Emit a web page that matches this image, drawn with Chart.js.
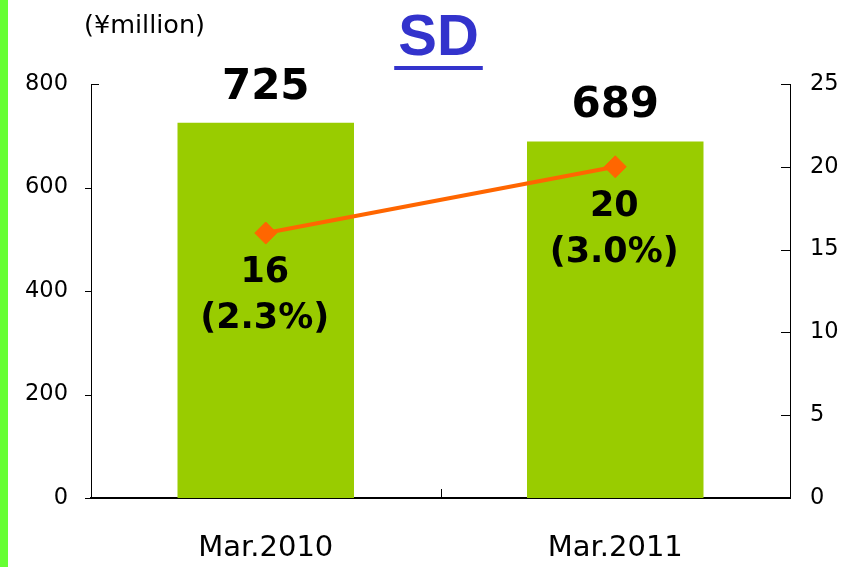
<!DOCTYPE html>
<html>
<head>
<meta charset="utf-8">
<title>SD</title>
<script src="https://cdn.jsdelivr.net/npm/chart.js@4.4.1/dist/chart.umd.min.js"></script>
<style>
    html, body { margin: 0; padding: 0; background: #fff; }
    #chart { display: block; }
</style>
</head>
<body>
<canvas id="chart" width="854" height="567"></canvas>
<script>
// ── Data ────────────────────────────────────────────────
const categories   = ['Mar.2010', 'Mar.2011'];
const salesValues  = [725, 689];          // ¥million, bars, left axis
const profitValues = [16, 20];            // line, right axis
const profitRates  = ['(2.3%)', '(3.0%)'];
const leftTicks    = [0, 200, 400, 600, 800];
const rightTicks   = [0, 5, 10, 15, 20, 25];

const chartTitle = 'SD';
const unitLabel  = '(¥million)';

const BAR_GREEN   = '#99cc00';
const LINE_ORANGE = '#ff6600';
const TITLE_BLUE  = '#3333cc';
const EDGE_GREEN  = '#66ff33';

const SANS = '"DejaVu Sans", Verdana, sans-serif';

// ── Decorations: edge strip, title, unit, tick marks, value labels ──
const decor = {
    id: 'decor',
    beforeDraw(chart) {
        const ctx = chart.ctx;
        ctx.save();
        ctx.fillStyle = '#fff';
        ctx.fillRect(0, 0, chart.width, chart.height);
        ctx.fillStyle = EDGE_GREEN;
        ctx.fillRect(0, 0, 8, chart.height);
        ctx.restore();
    },
    afterDatasetsDraw(chart) {
        const ctx  = chart.ctx;
        const bars = chart.getDatasetMeta(0).data;
        const pts  = chart.getDatasetMeta(1).data;
        ctx.save();
        ctx.fillStyle = '#000';
        ctx.textAlign = 'center';
        ctx.textBaseline = 'alphabetic';

        ctx.font = 'bold 42px ' + SANS;
        bars.forEach((b, i) => ctx.fillText(String(salesValues[i]), b.x, b.y - 24));

        ctx.font = 'bold 35px ' + SANS;
        pts.forEach((p, i) => {
            ctx.fillText(String(profitValues[i]), p.x - 1, p.y + 49);
            ctx.fillText(profitRates[i], p.x - 1, p.y + 95);
        });
        ctx.restore();
    },
    afterDraw(chart) {
        const ctx = chart.ctx;
        const area = chart.chartArea;
        const yL = chart.scales.y;
        const yR = chart.scales.y1;
        ctx.save();

        // tick marks: left outward (top one inward), right inward, x centre inward
        ctx.strokeStyle = '#000';
        ctx.lineWidth = 1;
        ctx.beginPath();
        leftTicks.forEach((v, i) => {
            const y = Math.round(yL.getPixelForValue(v)) + 0.5;
            const top = i === leftTicks.length - 1;
            ctx.moveTo(top ? area.left + 8 : area.left - 6, y);
            ctx.lineTo(area.left, y);
        });
        rightTicks.forEach(v => {
            const y = Math.round(yR.getPixelForValue(v)) + 0.5;
            ctx.moveTo(area.right - 9, y);
            ctx.lineTo(area.right, y);
        });
        const mid = Math.round((area.left + area.right) / 2) + 0.5;
        ctx.moveTo(mid, area.bottom);
        ctx.lineTo(mid, area.bottom - 9);
        ctx.stroke();

        // title with underline
        ctx.fillStyle = TITLE_BLUE;
        ctx.font = 'bold 58px "Liberation Sans", Arial, sans-serif';
        ctx.textAlign = 'center';
        ctx.textBaseline = 'alphabetic';
        const cx = 438.5;
        ctx.fillText(chartTitle, cx, 55);
        const w = ctx.measureText(chartTitle).width;
        ctx.fillRect(cx - w / 2 - 4, 66, w + 8, 4);

        // unit
        ctx.fillStyle = '#000';
        ctx.font = '25.5px ' + SANS;
        ctx.textAlign = 'left';
        ctx.fillText(unitLabel, 84, 33);
        ctx.restore();
    }
};

new Chart(document.getElementById('chart'), {
    data: {
        labels: categories,
        datasets: [
            {
                type: 'bar',
                label: 'Sales',
                data: salesValues,
                backgroundColor: BAR_GREEN,
                borderWidth: 0,
                barPercentage: 0.505,
                categoryPercentage: 1.0,
                yAxisID: 'y',
                order: 2,
            },
            {
                type: 'line',
                label: 'Operating income',
                data: profitValues,
                borderColor: LINE_ORANGE,
                borderWidth: 4,
                pointStyle: 'rectRot',
                pointRadius: 11,
                pointBackgroundColor: LINE_ORANGE,
                pointBorderColor: LINE_ORANGE,
                pointBorderWidth: 1,
                tension: 0,
                yAxisID: 'y1',
                order: 1,
            }
        ]
    },
    options: {
        responsive: false,
        animation: false,
        devicePixelRatio: 1,
        layout: { padding: { top: 84, left: 0, right: 0, bottom: 0 } },
        plugins: {
            legend:  { display: false },
            tooltip: { enabled: false },
        },
        scales: {
            x: {
                offset: true,
                grid:   { display: false, drawTicks: false },
                border: { display: true, color: '#000', width: 2 },
                ticks:  { color: '#000', padding: 33, font: { family: SANS, size: 29 } },
                afterFit: s => { s.height = 69; },
            },
            y: {
                position: 'left',
                min: leftTicks[0],
                max: leftTicks[leftTicks.length - 1],
                afterBuildTicks: s => { s.ticks = leftTicks.map(v => ({ value: v })); },
                grid:   { display: false, drawTicks: false },
                border: { display: true, color: '#000', width: 1 },
                ticks:  { color: '#000', padding: 23, font: { family: SANS, size: 22.5 } },
                afterFit: s => { s.width = 91; },
            },
            y1: {
                position: 'right',
                min: rightTicks[0],
                max: rightTicks[rightTicks.length - 1],
                afterBuildTicks: s => { s.ticks = rightTicks.map(v => ({ value: v })); },
                grid:   { display: false, drawTicks: false },
                border: { display: true, color: '#000', width: 1 },
                ticks:  { color: '#000', padding: 20, font: { family: SANS, size: 22.5 } },
                afterFit: s => { s.width = 64; },
            }
        }
    },
    plugins: [decor]
});
</script>
</body>
</html>
